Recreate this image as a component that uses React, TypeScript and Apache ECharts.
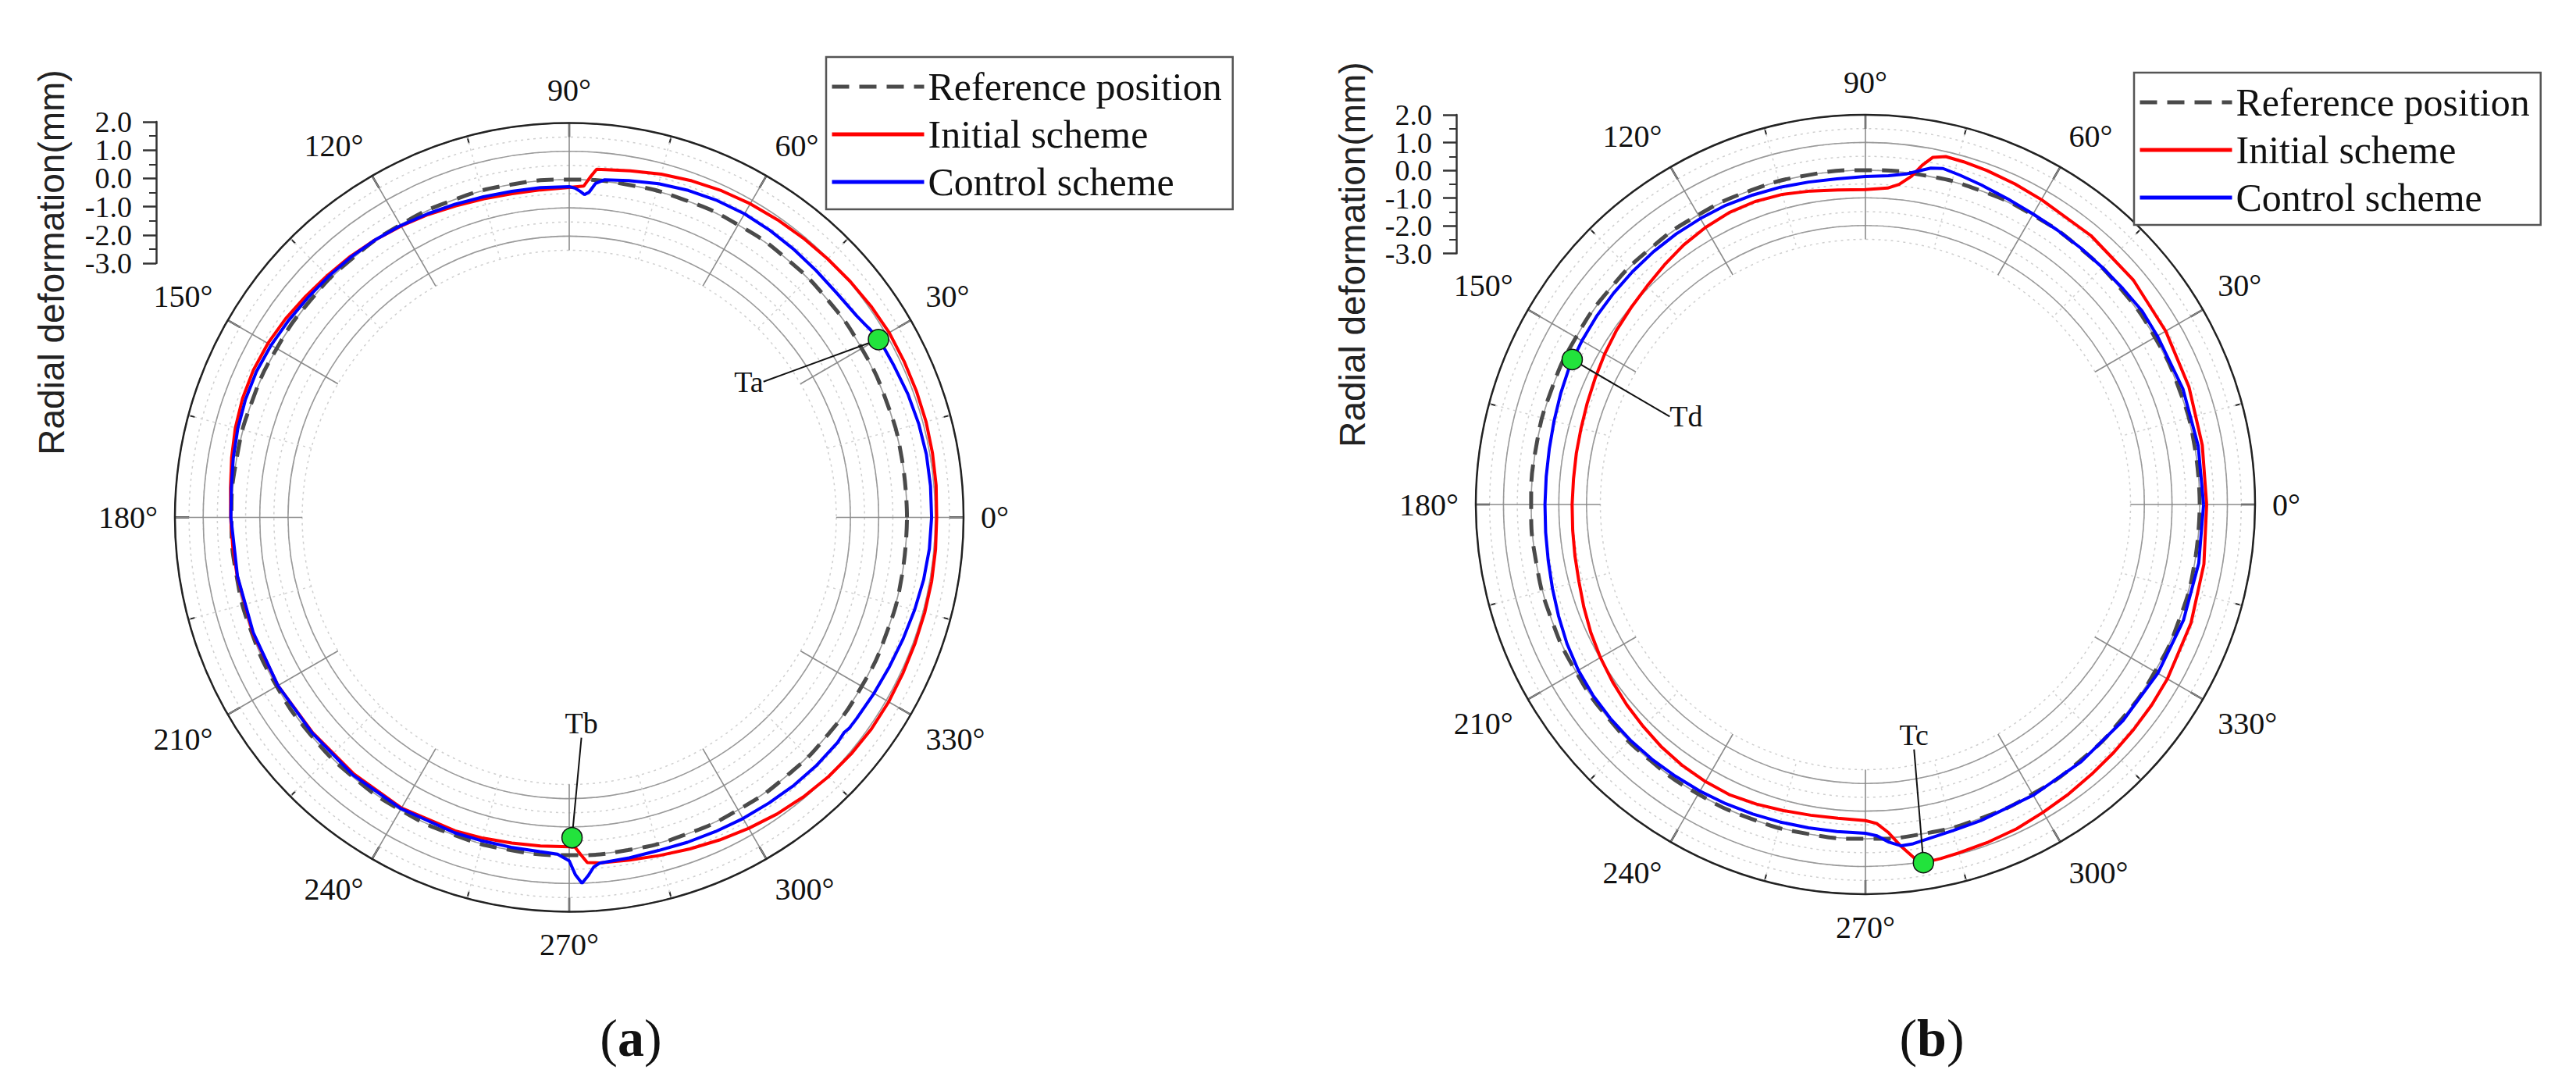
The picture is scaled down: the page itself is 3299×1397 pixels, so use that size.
import React, { useEffect, useRef } from 'react';
import * as echarts from 'echarts';

// ---------------- data (radial deformation in mm, angle in degrees) ----------------
const REF_ANGLES = [0, 10, 20, 30, 40, 50, 60, 70, 80, 90, 100, 110, 120, 130, 140, 150, 160, 170, 180, 190, 200, 210, 220, 230, 240, 250, 260, 270, 280, 290, 300, 310, 320, 330, 340, 350, 360];
const REF_VALUES = [0, 0, 0, 0, 0, 0, 0, 0, 0, 0, 0, 0, 0, 0, 0, 0, 0, 0, 0, 0, 0, 0, 0, 0, 0, 0, 0, 0, 0, 0, 0, 0, 0, 0, 0, 0, 0];

// Panel (a) - Initial scheme
const A_INIT_ANGLES = [0, 5, 10, 15, 20, 25, 30, 35, 40, 45, 50, 55, 60, 65, 70, 75, 80, 84, 85.5, 86.5, 87.5, 90, 95, 100, 105, 110, 115, 120, 125, 130, 135, 140, 145, 150, 155, 160, 165, 170, 175, 180, 185, 190, 200, 210, 220, 230, 240, 250, 255, 260, 265, 270, 271, 272, 273, 275, 280, 285, 290, 295, 300, 305, 310, 315, 320, 325, 330, 335, 340, 345, 350, 355, 360];
const A_INIT_VALUES = [1.05, 1.08, 1.1, 1.12, 1.12, 1.12, 1.12, 1.08, 1.03, 0.98, 0.94, 0.9, 0.86, 0.8, 0.72, 0.62, 0.5, 0.42, 0.4, 0.1, -0.22, -0.28, -0.32, -0.32, -0.28, -0.22, -0.13, -0.05, 0.03, 0.1, 0.15, 0.22, 0.3, 0.36, 0.38, 0.35, 0.28, 0.18, 0.08, 0.03, 0.0, -0.02, -0.03, -0.05, -0.1, -0.1, -0.08, -0.15, -0.2, -0.25, -0.28, -0.3, -0.28, 0.0, 0.28, 0.32, 0.36, 0.43, 0.53, 0.64, 0.75, 0.86, 0.95, 1.02, 1.07, 1.1, 1.1, 1.08, 1.07, 1.07, 1.07, 1.06, 1.05];

// Panel (a) - Control scheme
const A_CTRL_ANGLES = [0, 5, 10, 15, 20, 25, 28, 30, 32, 33, 35, 40, 45, 50, 55, 60, 65, 70, 75, 80, 84, 85.5, 86.5, 87.3, 88, 89, 90, 95, 100, 105, 110, 115, 120, 125, 130, 135, 140, 145, 150, 155, 160, 165, 170, 175, 180, 190, 200, 210, 220, 230, 240, 250, 255, 260, 265, 268, 270, 271, 272, 273, 274, 275, 280, 285, 290, 295, 300, 305, 310, 315, 320, 322, 323, 325, 330, 335, 340, 345, 350, 355, 360];
const A_CTRL_VALUES = [0.87, 0.88, 0.88, 0.85, 0.8, 0.73, 0.7, 0.67, 0.6, 0.55, 0.47, 0.4, 0.4, 0.42, 0.44, 0.45, 0.42, 0.36, 0.27, 0.15, 0.06, -0.1, -0.42, -0.52, -0.42, -0.3, -0.25, -0.24, -0.24, -0.21, -0.16, -0.1, -0.03, 0.03, 0.07, 0.1, 0.13, 0.18, 0.23, 0.26, 0.24, 0.19, 0.12, 0.05, 0.02, -0.03, -0.05, -0.05, -0.08, -0.05, -0.05, -0.08, -0.1, -0.1, -0.08, -0.03, 0.2, 0.7, 1.0, 0.75, 0.45, 0.33, 0.28, 0.25, 0.28, 0.31, 0.35, 0.38, 0.42, 0.44, 0.44, 0.4, 0.45, 0.46, 0.5, 0.55, 0.62, 0.7, 0.78, 0.84, 0.87];

// Panel (b) - Initial scheme
const B_INIT_ANGLES = [0, 10, 20, 30, 40, 50, 60, 65, 70, 74, 77, 79, 80.5, 82, 84, 86, 90, 95, 100, 105, 110, 115, 120, 125, 130, 135, 140, 145, 150, 155, 160, 165, 170, 175, 180, 185, 190, 195, 200, 205, 210, 215, 220, 225, 230, 235, 240, 245, 250, 255, 260, 265, 270, 272, 274, 276, 278, 279.2, 282, 285, 290, 295, 300, 305, 310, 315, 320, 325, 330, 340, 350, 360];
const B_INIT_VALUES = [0.25, 0.28, 0.36, 0.45, 0.55, 0.6, 0.64, 0.7, 0.76, 0.8, 0.82, 0.7, 0.35, -0.1, -0.45, -0.62, -0.7, -0.67, -0.58, -0.48, -0.43, -0.44, -0.52, -0.63, -0.78, -0.92, -1.02, -1.1, -1.2, -1.3, -1.38, -1.44, -1.47, -1.49, -1.48, -1.46, -1.42, -1.36, -1.25, -1.13, -1.02, -0.92, -0.82, -0.73, -0.63, -0.56, -0.52, -0.5, -0.56, -0.63, -0.68, -0.7, -0.66, -0.55, -0.2, 0.35, 0.85, 1.03, 1.0, 0.95, 0.9, 0.85, 0.76, 0.7, 0.64, 0.6, 0.57, 0.55, 0.52, 0.44, 0.34, 0.25];

// Panel (b) - Control scheme
const B_CTRL_ANGLES = [0, 10, 20, 30, 35, 40, 45, 50, 55, 60, 65, 70, 74, 77, 79, 81, 83, 86, 90, 95, 100, 105, 110, 115, 120, 125, 130, 135, 140, 145, 150, 155, 160, 165, 170, 175, 180, 185, 190, 195, 200, 205, 210, 215, 220, 225, 230, 235, 240, 245, 250, 255, 260, 265, 270, 272, 274, 276, 278, 281, 285, 290, 300, 310, 320, 330, 340, 350, 360];
const B_CTRL_VALUES = [0.14, 0.13, 0.13, 0.1, 0.12, 0.06, 0.03, 0.02, 0.02, 0.04, 0.1, 0.2, 0.3, 0.38, 0.3, 0.12, -0.05, -0.17, -0.23, -0.27, -0.25, -0.21, -0.18, -0.15, -0.15, -0.15, -0.16, -0.18, -0.2, -0.22, -0.25, -0.28, -0.36, -0.43, -0.48, -0.5, -0.5, -0.48, -0.44, -0.37, -0.28, -0.18, -0.1, -0.06, -0.05, -0.05, -0.07, -0.1, -0.12, -0.15, -0.18, -0.2, -0.22, -0.22, -0.2, -0.1, 0.15, 0.32, 0.3, 0.2, 0.12, 0.08, 0.05, 0.05, 0.07, 0.12, 0.15, 0.15, 0.14];

// Marked points: [value, angle]
const A_POINT_NAMES = ['Ta', 'Tb'];
const A_POINT_VALUES = [0.67, -0.62];
const A_POINT_ANGLES = [29.9, 270.5];
const B_POINT_NAMES = ['Td', 'Tc'];
const B_POINT_VALUES = [-0.26, 1.03];
const B_POINT_ANGLES = [153.7, 279.2];

const SERIES_NAMES = ['Reference position', 'Initial scheme', 'Control scheme'];
// radial scale bar (left of each polar plot)
const RADIAL_TICK_MIN = -3;
const RADIAL_TICK_MAX = 2;
const RADIAL_TICK_LABELS = ['-3.0', '-2.0', '-1.0', '0.0', '1.0', '2.0'];

// ---------------- styling ----------------
const SERIF = '"Liberation Serif", "Times New Roman", serif';
const SANS = '"Liberation Sans", Arial, sans-serif';
const RED = '#ff0000';
const BLUE = '#0000ff';
const REF_COLOR = '#4a4a4a';
const MARK_GREEN = '#22e33c';

const pairs = (vals: number[], angs: number[]) => vals.map((v, i) => [v, angs[i]]);

// three stacked polar systems per panel: dotted grid (main), solid integer rings, outer frame
function panelPolar(center: number[], outer: number, inner: number) {
  const k = (outer - inner) / 4.5;
  return [
    { center, radius: [inner, outer] },
    { center, radius: [inner + 0.5 * k, outer] },
    { center, radius: [0, outer] },
  ];
}

function mainAngleAxis(polarIndex: number) {
  return {
    polarIndex,
    type: 'value',
    min: 0,
    max: 360,
    interval: 30,
    startAngle: 0,
    clockwise: false,
    axisLine: { show: false },
    axisTick: { show: true, inside: true, length: 18, lineStyle: { color: '#222', width: 2.5 } },
    minorTick: { show: true, splitNumber: 2, length: 9, lineStyle: { color: '#222', width: 2 } },
    axisLabel: {
      show: true,
      margin: 22,
      fontSize: 40,
      fontFamily: SERIF,
      color: '#111',
      formatter: (v: number) => (v === 360 ? '' : `${v}°`),
    },
    splitLine: { show: true, lineStyle: { color: '#8c8c8c', width: 1.6 } },
    minorSplitLine: { show: true, lineStyle: { color: '#d2d2d2', width: 1.5, type: [3, 5] } },
  };
}

function hiddenAngleAxis(polarIndex: number, frame: boolean) {
  return {
    polarIndex,
    type: 'value',
    min: 0,
    max: 360,
    startAngle: 0,
    clockwise: false,
    axisLine: frame ? { show: true, lineStyle: { color: '#222', width: 2.5 } } : { show: false },
    axisTick: { show: false },
    minorTick: { show: false },
    axisLabel: { show: false },
    splitLine: { show: false },
  };
}

function dottedRadiusAxis(polarIndex: number) {
  return {
    polarIndex,
    type: 'value',
    min: -2.5,
    max: 2,
    interval: 0.5,
    axisLine: { show: false },
    axisTick: { show: false },
    axisLabel: { show: false },
    splitLine: { show: true, lineStyle: { color: '#cfcfcf', width: 1.5, type: [3, 5] } },
  };
}

function solidRadiusAxis(polarIndex: number) {
  return {
    polarIndex,
    type: 'value',
    min: -2,
    max: 2,
    interval: 1,
    axisLine: { show: false },
    axisTick: { show: false },
    axisLabel: { show: false },
    splitLine: { show: true, lineStyle: { color: '#9a9a9a', width: 1.6 } },
  };
}

function frameRadiusAxis(polarIndex: number) {
  return {
    polarIndex,
    type: 'value',
    min: 0,
    max: 1,
    axisLine: { show: false },
    axisTick: { show: false },
    axisLabel: { show: false },
    splitLine: { show: false },
  };
}

// value axis draws the bar and ticks; a category axis on the same grid draws every label
function scaleBarAxes(gridIndex: number) {
  return {
    x: { type: 'value', gridIndex, show: false, min: 0, max: 1 },
    yTicks: {
      type: 'value',
      gridIndex,
      min: RADIAL_TICK_MIN,
      max: RADIAL_TICK_MAX,
      interval: 1,
      position: 'left',
      axisLine: { show: true, onZero: false, lineStyle: { color: '#333', width: 2.5 } },
      axisTick: { show: true, length: 17, lineStyle: { color: '#333', width: 2.5 } },
      minorTick: { show: true, splitNumber: 2, length: 9, lineStyle: { color: '#333', width: 2 } },
      splitLine: { show: false },
      axisLabel: { show: false },
    },
    yLabels: {
      type: 'category',
      gridIndex,
      data: RADIAL_TICK_LABELS,
      boundaryGap: false,
      position: 'left',
      axisLine: { show: false },
      axisTick: { show: false },
      splitLine: { show: false },
      axisLabel: {
        show: true,
        interval: 0,
        margin: 31,
        fontSize: 38,
        fontFamily: SERIF,
        color: '#111',
      },
    },
  };
}

function panelSeries(
  polarIndex: number,
  initV: number[], initA: number[],
  ctrlV: number[], ctrlA: number[],
  ptNames: string[], ptV: number[], ptA: number[],
  offsets: number[][],
) {
  return [
    {
      name: SERIES_NAMES[0],
      type: 'line',
      coordinateSystem: 'polar',
      polarIndex,
      data: pairs(REF_VALUES, REF_ANGLES),
      symbol: 'none',
      smooth: true,
      silent: true,
      z: 3,
      lineStyle: { color: REF_COLOR, width: 5, type: [22, 13] },
      itemStyle: { color: REF_COLOR },
    },
    {
      name: SERIES_NAMES[1],
      type: 'line',
      coordinateSystem: 'polar',
      polarIndex,
      data: pairs(initV, initA),
      symbol: 'none',
      silent: true,
      z: 4,
      lineStyle: { color: RED, width: 4 },
      itemStyle: { color: RED },
    },
    {
      name: SERIES_NAMES[2],
      type: 'line',
      coordinateSystem: 'polar',
      polarIndex,
      data: pairs(ctrlV, ctrlA),
      symbol: 'none',
      silent: true,
      z: 5,
      lineStyle: { color: BLUE, width: 4 },
      itemStyle: { color: BLUE },
    },
    {
      name: 'points',
      type: 'scatter',
      coordinateSystem: 'polar',
      polarIndex,
      z: 6,
      silent: true,
      symbol: 'circle',
      symbolSize: 26,
      itemStyle: { color: MARK_GREEN, borderColor: '#111', borderWidth: 1.5, opacity: 1 },
      data: ptV.map((v, i) => ({ value: [v, ptA[i]], name: ptNames[i] })),
      label: {
        show: true,
        position: 'inside',
        formatter: (p: any) => p.name,
        fontSize: 38,
        fontFamily: SERIF,
        color: '#111',
      },
      labelLine: { show: true, lineStyle: { color: '#111', width: 2 } },
      labelLayout: (p: any) => ({ dx: offsets[p.dataIndex][0], dy: offsets[p.dataIndex][1] }),
    },
  ];
}

function legendBox(left: number, top: number) {
  return {
    show: true,
    data: SERIES_NAMES,
    orient: 'vertical',
    left,
    top,
    selectedMode: false,
    itemWidth: 118,
    itemHeight: 20,
    itemGap: 11,
    padding: [13, 14, 10, 5],
    borderColor: '#555',
    borderWidth: 2.5,
    borderRadius: 0,
    backgroundColor: '#fff',
    itemStyle: { color: 'rgba(0,0,0,0)', borderWidth: 0, opacity: 0 },
    lineStyle: { width: 5 },
    textStyle: { fontSize: 50, fontFamily: SERIF, color: '#111', lineHeight: 50 },
  };
}

function App() {
  const ref = useRef<HTMLDivElement>(null);

  useEffect(() => {
    if (!ref.current) return;
    const chart = echarts.init(ref.current, undefined, { renderer: 'svg' });

    const polarA = panelPolar([729, 662.5], 505, 342);
    const polarB = panelPolar([2389, 646], 499, 339.5);
    const barA = scaleBarAxes(0);
    const barB = scaleBarAxes(1);

    const option: any = {
      animation: false,
      backgroundColor: '#ffffff',
      textStyle: { fontFamily: SERIF },
      polar: [...polarA, ...polarB],
      angleAxis: [
        mainAngleAxis(0), hiddenAngleAxis(1, false), hiddenAngleAxis(2, true),
        mainAngleAxis(3), hiddenAngleAxis(4, false), hiddenAngleAxis(5, true),
      ],
      radiusAxis: [
        dottedRadiusAxis(0), solidRadiusAxis(1), frameRadiusAxis(2),
        dottedRadiusAxis(3), solidRadiusAxis(4), frameRadiusAxis(5),
      ],
      grid: [
        { left: 200, top: 156, width: 10, height: 181 },
        { left: 1865, top: 147, width: 10, height: 177.5 },
      ],
      xAxis: [barA.x, barB.x],
      yAxis: [barA.yTicks, barA.yLabels, barB.yTicks, barB.yLabels],
      legend: [legendBox(1058, 73), legendBox(2733, 93)],
      graphic: [
        {
          type: 'text',
          x: 66,
          y: 336,
          rotation: Math.PI / 2,
          style: {
            text: 'Radial deformation(mm)',
            fontSize: 46,
            fontFamily: SANS,
            fill: '#222',
            align: 'center',
            verticalAlign: 'middle',
            textAlign: 'center',
            textVerticalAlign: 'middle',
          },
        },
        {
          type: 'text',
          x: 1732,
          y: 326,
          rotation: Math.PI / 2,
          style: {
            text: 'Radial deformation(mm)',
            fontSize: 46,
            fontFamily: SANS,
            fill: '#222',
            align: 'center',
            verticalAlign: 'middle',
            textAlign: 'center',
            textVerticalAlign: 'middle',
          },
        },
        {
          type: 'text',
          x: 808,
          y: 1329,
          style: {
            text: '{p|(}{b|a}{p|)}',
            align: 'center',
            verticalAlign: 'middle',
            textAlign: 'center',
            textVerticalAlign: 'middle',
            rich: {
              p: { fontSize: 68, fontFamily: SERIF, fill: '#111' },
              b: { fontSize: 68, fontFamily: SERIF, fontWeight: 'bold', fill: '#111' },
            },
          },
        },
        {
          type: 'text',
          x: 2474,
          y: 1329,
          style: {
            text: '{p|(}{b|b}{p|)}',
            align: 'center',
            verticalAlign: 'middle',
            textAlign: 'center',
            textVerticalAlign: 'middle',
            rich: {
              p: { fontSize: 68, fontFamily: SERIF, fill: '#111' },
              b: { fontSize: 68, fontFamily: SERIF, fontWeight: 'bold', fill: '#111' },
            },
          },
        },
      ],
      series: [
        ...panelSeries(0, A_INIT_VALUES, A_INIT_ANGLES, A_CTRL_VALUES, A_CTRL_ANGLES,
          A_POINT_NAMES, A_POINT_VALUES, A_POINT_ANGLES, [[-166, 54], [12, -147]]),
        ...panelSeries(3, B_INIT_VALUES, B_INIT_ANGLES, B_CTRL_VALUES, B_CTRL_ANGLES,
          B_POINT_NAMES, B_POINT_VALUES, B_POINT_ANGLES, [[146, 73], [-12, -164]]),
      ],
    };

    chart.setOption(option);
    return () => {
      chart.dispose();
    };
  }, []);

  return (
    <div
      ref={ref}
      style={{ position: 'fixed', left: 0, top: 0, width: 3299, height: 1397, background: '#fff' }}
    />
  );
}

export default App;
